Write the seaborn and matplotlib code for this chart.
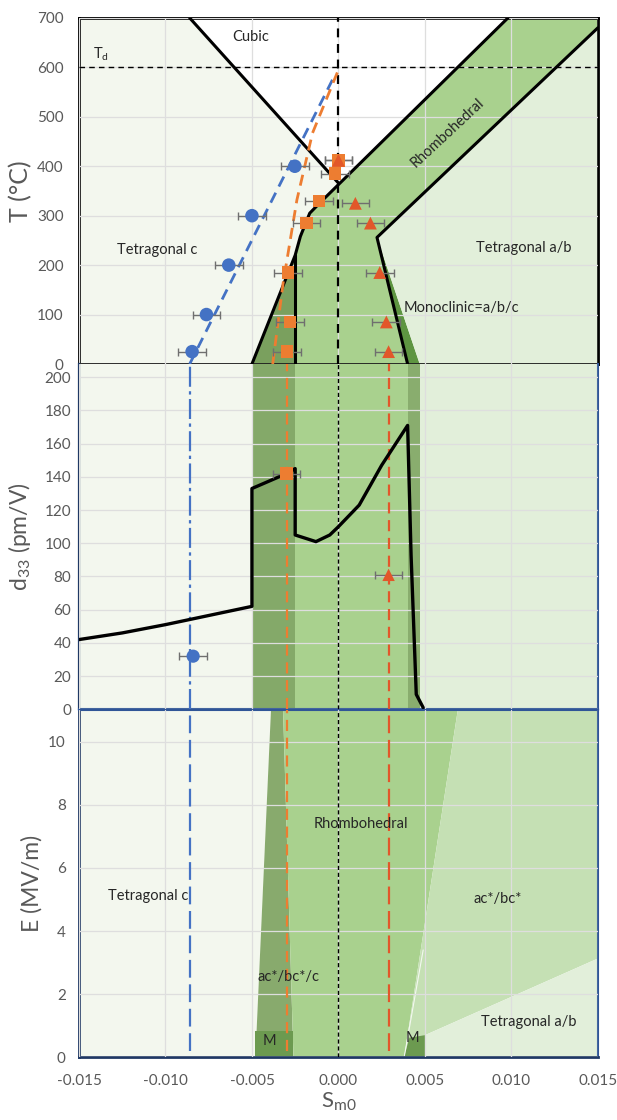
import numpy as np
import pandas as pd
import seaborn as sns
import matplotlib.pyplot as plt
from matplotlib.ticker import MultipleLocator, FormatStrFormatter

sns.set_style("white")
plt.rcParams['font.family'] = ['Lato', 'DejaVu Sans']
plt.rcParams['mathtext.default'] = 'regular'

#--- colours ---
C_TETC = '#f3f7ee'
C_RH = '#a9d18e'
C_DARK = '#84a969'
C_MONO = '#5e9541'
C_TETAB = '#e2efda'
C_ACBC = '#c5e0b4'
C_M = '#6c9a50'
BLUE = '#4472c4'
ORANGE = '#ed7d31'
RED = '#e2572a'
GREY = '#595959'
TXT = 10.5

#--- top panel: phase regions (S_m0, T) ---
cubic_x = [-0.0086, 0.0, 0.0098]
cubic_T = [700, 366, 700]
dark_x = [-0.0050, -0.0025, -0.0025]
dark_T = [0, 220, 0]
rh_x = [-0.0025, -0.0025, -0.0022, -0.00166, -0.0011, 0.0098, 0.015, 0.015, 0.00223, 0.0040]
rh_T = [0, 220, 258, 305, 325, 700, 700, 680, 256, 0]
mono_x = [0.00223, 0.0040, 0.0047]
mono_T = [256, 0, 0]
tetab_x = [0.00223, 0.015, 0.015, 0.0047]
tetab_T = [256, 680, 0, 0]

# boundary lines
cub_line_x = [-0.0086, 0.0]
cub_line_T = [700, 366]
rh_up_x = [-0.0050, -0.0025, -0.0022, -0.00166, -0.0011, 0.0098]
rh_up_T = [0, 220, 258, 305, 325, 700]
vert_x = [-0.0025, -0.0025]
vert_T = [0, 220]
rh_low_x = [0.0040, 0.00223, 0.015]
rh_low_T = [0, 256, 680]

# measured points
circ_x = [-0.00846, -0.00763, -0.00634, -0.0050, -0.00252]
circ_T = [25, 100, 200, 300, 400]
sq_x = [-0.00297, -0.00281, -0.00291, -0.00185, -0.00112, -0.00021, 0.0000]
sq_T = [25, 85, 185, 285, 330, 385, 412]
tri_x = [0.0029, 0.00277, 0.00239, 0.00185, 0.00098, 0.0000]
tri_T = [25, 85, 185, 285, 325, 412]
x_err = 0.0008

# fitted dashed lines
blue_fit_x = [-0.0086, -0.0003]
blue_fit_T = [0, 578]
orange_fit_x = [-0.0038, -0.0032, -0.0024, -0.0015, 0.0]
orange_fit_T = [0, 163, 332, 467, 595]
T_d = 600

#--- middle panel: d33 ---
mid_bounds = [-0.015, -0.005, -0.0025, 0.0040, 0.0047, 0.015]
d33_x = [-0.015, -0.0125, -0.010, -0.0075, -0.005, -0.005, -0.003, -0.0025, -0.0025,
         -0.0013, -0.0005, 0.0, 0.0012, 0.0025, 0.0040, 0.0042, 0.0045, 0.0049]
d33_y = [42, 46, 51, 56.5, 62, 133, 142, 145, 105, 101, 105, 110, 123, 147, 171, 93, 9, 1]
d33_circ = (-0.0084, 32)
d33_sq = (-0.0030, 142)
d33_tri = (0.0029, 81)

#--- bottom panel: E field ---
e_tetc_x = [-0.015, -0.015, -0.0039, -0.0048]
e_tetc_y = [0, 11, 11, 0]
e_wedge_x = [-0.0048, -0.0039, -0.0032, -0.0026]
e_wedge_y = [0, 11, 11, 0]
e_rh_x = [-0.0032, 0.0069, 0.0038, -0.0026]
e_rh_y = [11, 11, 0, 0]
e_acbc_x = [0.0069, 0.015, 0.015, 0.0050, 0.0050, 0.0038]
e_acbc_y = [11, 11, 3.13, 0.7, 0, 0]
e_tetab_x = [0.0050, 0.015, 0.015, 0.0050]
e_tetab_y = [0.7, 3.13, 0, 0]
e_mleft_x = [-0.0048, -0.0048, -0.0026, -0.0026]
e_mleft_y = [0.05, 0.82, 0.82, 0.05]
e_mright_x = [0.0038, 0.0041, 0.0050, 0.0050]
e_mright_y = [0, 0.62, 0.7, 0]

blue_v = -0.0086
orange_v = -0.0030
red_v = 0.0029

fig = plt.figure(figsize=(6.17, 11.2), dpi=100)
L, W = 0.128, 0.841
ax1 = fig.add_axes([L, 0.675, W, 0.309])
ax2 = fig.add_axes([L, 0.3667, W, 0.3083])
ax3 = fig.add_axes([L, 0.056, W, 0.310])

for ax in (ax1, ax2, ax3):
    ax.set_xlim(-0.015, 0.015)
    ax.xaxis.set_major_locator(MultipleLocator(0.005))
    ax.xaxis.set_minor_locator(MultipleLocator(0.0025))
    ax.grid(True, which='major', color='#dedede', lw=0.9)
    ax.set_axisbelow(False)
    ax.tick_params(labelcolor=GREY, labelsize=11)

#=== top panel ===
ax1.set_ylim(0, 700)
ax1.set_facecolor(C_TETC)
ax1.fill(cubic_x, cubic_T, color='white', zorder=0.5, lw=0)
ax1.fill(dark_x, dark_T, color='#7aa05e', zorder=0.5, lw=0)
ax1.fill(rh_x, rh_T, color=C_RH, zorder=0.5, lw=0)
ax1.fill(mono_x, mono_T, color=C_MONO, zorder=0.5, lw=0)
ax1.fill(tetab_x, tetab_T, color=C_TETAB, zorder=0.5, lw=0)
for bx, by in [(cub_line_x, cub_line_T), (rh_up_x, rh_up_T), (vert_x, vert_T), (rh_low_x, rh_low_T)]:
    ax1.plot(bx, by, color='black', lw=2.2, zorder=3, solid_joinstyle='round')
ax1.axhline(T_d, color='black', lw=1, ls=(0, (4, 3)), zorder=3)
ax1.axvline(0, color='black', lw=1.6, ls=(0, (4, 3)), zorder=3)
ax1.plot(blue_fit_x, blue_fit_T, color=BLUE, lw=2, ls=(0, (4, 2.5)), zorder=3.5)
ax1.plot(orange_fit_x, orange_fit_T, color=ORANGE, lw=2, ls=(0, (4, 2.5)), zorder=3.5)
ax1.errorbar(circ_x, circ_T, xerr=x_err, fmt='none', ecolor='#6f6f6f', elinewidth=1, capsize=3, zorder=4)
ax1.errorbar(sq_x, sq_T, xerr=x_err, fmt='none', ecolor='#6f6f6f', elinewidth=1, capsize=3, zorder=4)
ax1.errorbar(tri_x, tri_T, xerr=x_err, fmt='none', ecolor='#6f6f6f', elinewidth=1, capsize=3, zorder=4)
sns.scatterplot(x=circ_x, y=circ_T, marker='o', s=95, color=BLUE, edgecolor='none', ax=ax1, zorder=5)
sns.scatterplot(x=sq_x, y=sq_T, marker='s', s=80, color=ORANGE, edgecolor='none', ax=ax1, zorder=5)
sns.scatterplot(x=tri_x, y=tri_T, marker='^', s=85, color=RED, edgecolor='none', ax=ax1, zorder=6)

ax1.text(-0.0051, 662, 'Cubic', fontsize=TXT, ha='center', va='center')
ax1.text(-0.0142, 608, r'T$_\mathregular{d}$', fontsize=TXT, ha='left', va='bottom')
ax1.text(-0.0105, 231, 'Tetragonal c', fontsize=TXT, ha='center', va='center')
ax1.text(0.0107, 234, 'Tetragonal a/b', fontsize=TXT, ha='center', va='center')
ax1.text(0.0071, 113, 'Monoclinic=a/b/c', fontsize=TXT, ha='center', va='center')
ax1.text(0.0063, 467, 'Rhombohedral', fontsize=TXT, ha='center', va='center',
         rotation=43, rotation_mode='anchor')

ax1.yaxis.set_major_locator(MultipleLocator(100))
ax1.tick_params(axis='y', length=0, pad=11)
ax1.tick_params(axis='x', which='both', direction='in', length=5, width=1, labelbottom=False)
for sp in ax1.spines.values():
    sp.set_color('black')
    sp.set_linewidth(2)
ax1.set_ylabel('T (°C)', fontsize=18, color=GREY)
ax1.yaxis.set_label_coords(-0.09, 0.5)

#=== middle panel ===
ax2.set_ylim(0, 208)
mid_colors = [C_TETC, C_DARK, C_RH, '#89ad6e', C_TETAB]
for i in range(len(mid_colors)):
    ax2.axvspan(mid_bounds[i], mid_bounds[i + 1], color=mid_colors[i], lw=0, zorder=0.5)
ax2.axvline(0, color='black', lw=1, ls=(0, (3, 2)), zorder=3)
ax2.axvline(blue_v, color=BLUE, lw=1.6, ls=(0, (9, 2, 1.5, 2)), zorder=3)
ax2.axvline(orange_v, color=ORANGE, lw=1.6, ls=(0, (5, 3)), zorder=3)
ax2.axvline(red_v, color=RED, lw=1.6, ls=(0, (5, 3)), zorder=3)
d33_df = pd.DataFrame({'S': d33_x, 'd33': d33_y})
sns.lineplot(data=d33_df, x='S', y='d33', sort=False, estimator=None, color='black',
             lw=2.4, ax=ax2, zorder=3.5)
for (px, py), m, c in [(d33_circ, 'o', BLUE), (d33_sq, 's', ORANGE), (d33_tri, '^', RED)]:
    ax2.errorbar([px], [py], xerr=x_err, fmt='none', ecolor='#6f6f6f', elinewidth=1, capsize=3, zorder=4)
    sns.scatterplot(x=[px], y=[py], marker=m, s=90 if m == 'o' else 80, color=c,
                    edgecolor='none', ax=ax2, zorder=5)
ax2.yaxis.set_major_locator(MultipleLocator(20))
ax2.tick_params(axis='y', direction='out', length=4, width=1, color='#1f3864', pad=1.5)
ax2.tick_params(axis='x', which='both', direction='inout', length=7, width=1, color='#1f3864',
                labelbottom=False)
ax2.spines['top'].set_visible(False)
ax2.spines['left'].set_color('#1f3864')
ax2.spines['left'].set_linewidth(1.6)
ax2.spines['right'].set_color('#2f5597')
ax2.spines['right'].set_linewidth(1.5)
ax2.spines['bottom'].set_color('#2f5597')
ax2.spines['bottom'].set_linewidth(1.5)
ax2.set_ylabel(r'd$_\mathregular{33}$ (pm/V)', fontsize=16.5, color=GREY)
ax2.yaxis.set_label_coords(-0.088, 0.5)

#=== bottom panel ===
ax3.set_ylim(0, 11)
ax3.fill(e_tetc_x, e_tetc_y, color=C_TETC, lw=0, zorder=0.5)
ax3.fill(e_wedge_x, e_wedge_y, color='#88aa6d', lw=0, zorder=0.5)
ax3.fill(e_rh_x, e_rh_y, color=C_RH, lw=0, zorder=0.5)
ax3.fill(e_acbc_x, e_acbc_y, color=C_ACBC, lw=0, zorder=0.5)
ax3.fill(e_tetab_x, e_tetab_y, color=C_TETAB, lw=0, zorder=0.6)
ax3.fill(e_mleft_x, e_mleft_y, color=C_M, lw=0, zorder=0.7)
ax3.fill(e_mright_x, e_mright_y, color=C_M, lw=0, zorder=0.7)
ax3.plot([e_acbc_x[5], 0.0049], [0, 3.4], color='white', lw=0.8, alpha=0.8, zorder=0.8)
ax3.axvline(0, color='black', lw=1, ls=(0, (3, 2)), zorder=3)
ax3.plot([blue_v, blue_v], [0.2, 11], color=BLUE, lw=1.6, ls=(0, (8, 3)), zorder=3)
ax3.plot([orange_v, orange_v], [0.2, 11], color=ORANGE, lw=1.6, ls=(0, (5, 3)), zorder=3)
ax3.plot([red_v, red_v], [0.2, 11], color=RED, lw=1.6, ls=(0, (8, 3)), zorder=3)

ax3.text(-0.0110, 5.1, 'Tetragonal c', fontsize=TXT, ha='center', va='center')
ax3.text(-0.0029, 2.55, 'ac*/bc*/c', fontsize=TXT, ha='center', va='center')
ax3.text(-0.0040, 0.5, 'M', fontsize=TXT, ha='center', va='center')
ax3.text(0.0013, 7.4, 'Rhombohedral', fontsize=TXT, ha='center', va='center')
ax3.text(0.0092, 5.0, 'ac*/bc*', fontsize=TXT, ha='center', va='center')
ax3.text(0.0110, 1.13, 'Tetragonal a/b', fontsize=TXT, ha='center', va='center')
ax3.text(0.0043, 0.62, 'M', fontsize=TXT, ha='center', va='center')

ax3.yaxis.set_major_locator(MultipleLocator(2))
ax3.yaxis.set_minor_locator(MultipleLocator(1))
ax3.tick_params(axis='y', which='both', direction='inout', length=7, width=1.2, color='#1f3864', pad=6)
ax3.tick_params(axis='x', which='both', direction='inout', length=8, width=1.2, color='#1f3864', pad=8)
ax3.xaxis.set_major_formatter(FormatStrFormatter('%.3f'))
ax3.spines['left'].set_color('#1f3864')
ax3.spines['left'].set_linewidth(2)
ax3.spines['bottom'].set_color('#1f3864')
ax3.spines['bottom'].set_linewidth(2)
ax3.spines['right'].set_color('#2f5597')
ax3.spines['right'].set_linewidth(1.5)
ax3.spines['top'].set_color('#2f5597')
ax3.spines['top'].set_linewidth(1.5)
ax3.set_ylabel('E (MV/m)', fontsize=16.5, color=GREY)
ax3.yaxis.set_label_coords(-0.071, 0.5)
ax3.set_xlabel(r'S$_\mathregular{m0}$', fontsize=16, color=GREY, labelpad=2)

fig.savefig('out.png', dpi=100)
